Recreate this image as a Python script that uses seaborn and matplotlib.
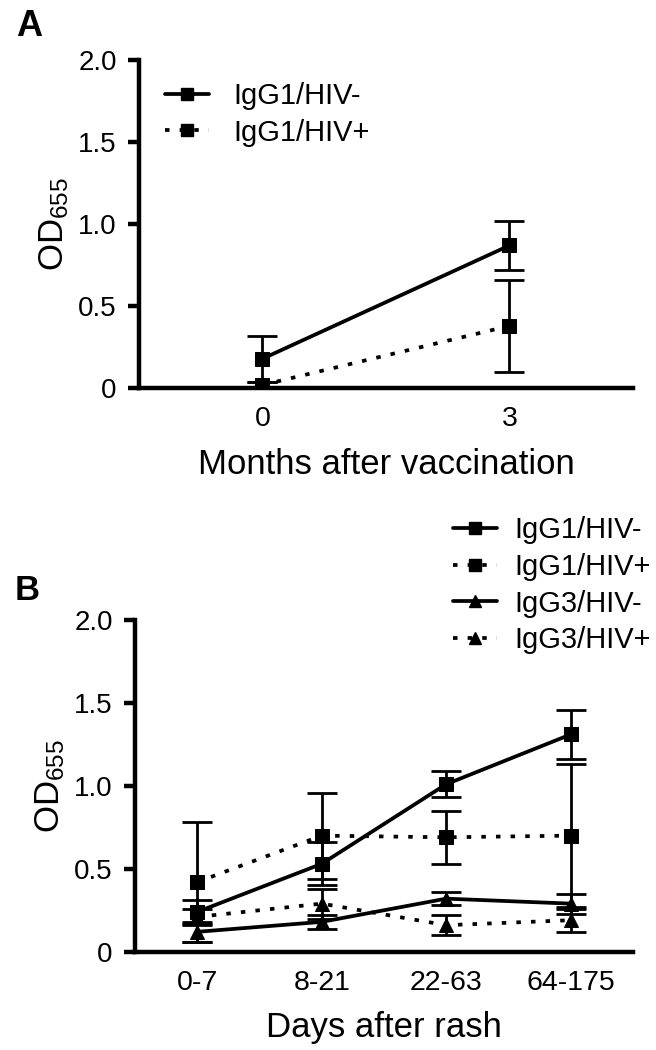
import numpy as np
import pandas as pd
import matplotlib
matplotlib.use("Agg")
import matplotlib.pyplot as plt
from matplotlib.lines import Line2D
import seaborn as sns

# panel A: months after vaccination
months = [0, 3]
a_igg1_neg = [0.18, 0.87]
a_igg1_neg_err = [0.14, 0.15]
a_igg1_pos = [0.02, 0.38]
a_igg1_pos_err = [0.02, 0.28]

# panel B: days after rash
day_bins = ["0-7", "8-21", "22-63", "64-175"]
b_igg1_neg = [0.24, 0.53, 1.01, 1.31]
b_igg1_neg_err = [0.07, 0.13, 0.08, 0.15]
b_igg1_pos = [0.42, 0.70, 0.69, 0.70]
b_igg1_pos_err = [0.36, 0.26, 0.16, 0.43]
b_igg3_neg = [0.12, 0.18, 0.32, 0.29]
b_igg3_neg_err = [0.06, 0.04, 0.04, 0.06]
b_igg3_pos = [0.21, 0.29, 0.16, 0.19]
b_igg3_pos_err = [0.05, 0.09, 0.06, 0.07]

sns.set_theme(style="ticks")
plt.rcParams['font.family'] = ['Liberation Sans', 'DejaVu Sans']
plt.rcParams['mathtext.default'] = 'regular'
for k in ['text.color', 'axes.labelcolor', 'xtick.color', 'ytick.color', 'axes.edgecolor']:
    plt.rcParams[k] = 'black'

SOLID = '-'
DOTTED = (0, (1.2, 2.7))
LW = 2.7
MS = 10.5

fig = plt.figure(figsize=(6.56, 10.5), dpi=100)
ax_a = fig.add_axes([0.2119, 0.6302, 0.753, 0.3127])
ax_b = fig.add_axes([0.2058, 0.0936, 0.759, 0.3159])


def draw_series(ax, x, y, err, marker, ls):
    ax.errorbar(x, y, yerr=err, fmt='none', ecolor='black', elinewidth=2.0,
                capsize=11, capthick=2.0, zorder=2)
    df = pd.DataFrame({'x': x, 'y': y})
    sns.lineplot(data=df, x='x', y='y', ax=ax, color='black', linewidth=LW,
                 linestyle=ls, marker=marker, markersize=MS,
                 markeredgecolor='black', markerfacecolor='black',
                 dash_capstyle='butt', legend=False, zorder=3)


def style_axes(ax):
    sns.despine(ax=ax)
    for s in ['left', 'bottom']:
        ax.spines[s].set_linewidth(3.2)
    ax.set_ylim(0, 2.0)
    ax.set_yticks([0, 0.5, 1.0, 1.5, 2.0])
    ax.set_yticklabels(['0', '0.5', '1.0', '1.5', '2.0'])
    ax.tick_params(axis='y', length=8, width=3.2, pad=8, labelsize=20)
    ax.tick_params(axis='x', length=0, pad=13, labelsize=20.5)
    ax.set_ylabel('OD$_{655}$', fontsize=25, labelpad=5)


def legend_handle(marker, ls):
    return Line2D([], [], color='black', linewidth=LW, linestyle=ls,
                  dash_capstyle='butt', marker=marker, markersize=MS * 0.85)


# panel A
draw_series(ax_a, months, a_igg1_neg, a_igg1_neg_err, 's', SOLID)
draw_series(ax_a, months, a_igg1_pos, a_igg1_pos_err, 's', DOTTED)
style_axes(ax_a)
ax_a.set_xlim(-1.5, 4.5)
ax_a.set_xticks(months)
ax_a.set_xticklabels([str(m) for m in months])
ax_a.set_xlabel('Months after vaccination', fontsize=25, labelpad=11)
fig.legend([legend_handle('s', SOLID), legend_handle('s', DOTTED)],
           ['IgG1/HIV-', 'IgG1/HIV+'], loc='upper left',
           bbox_to_anchor=(0.2515, 0.922), frameon=False, fontsize=21,
           handlelength=1.5, handletextpad=0.85, labelspacing=0.3,
           borderpad=0, borderaxespad=0)

# panel B
xb = list(range(len(day_bins)))
draw_series(ax_b, xb, b_igg1_neg, b_igg1_neg_err, 's', SOLID)
draw_series(ax_b, xb, b_igg1_pos, b_igg1_pos_err, 's', DOTTED)
draw_series(ax_b, xb, b_igg3_neg, b_igg3_neg_err, '^', SOLID)
draw_series(ax_b, xb, b_igg3_pos, b_igg3_pos_err, '^', DOTTED)
style_axes(ax_b)
ax_b.set_xlim(-0.5, 3.5)
ax_b.set_xticks(xb)
ax_b.set_xticklabels(day_bins)
ax_b.set_xlabel('Days after rash', fontsize=25, labelpad=11)
fig.legend([legend_handle('s', SOLID), legend_handle('s', DOTTED),
            legend_handle('^', SOLID), legend_handle('^', DOTTED)],
           ['IgG1/HIV-', 'IgG1/HIV+', 'IgG3/HIV-', 'IgG3/HIV+'],
           loc='upper left', bbox_to_anchor=(0.6905, 0.5085), frameon=False,
           fontsize=21, handlelength=1.5, handletextpad=0.6,
           labelspacing=0.3, borderpad=0, borderaxespad=0)

fig.text(0.024, 0.991, 'A', fontsize=26, fontweight='bold', va='top', ha='left')
fig.text(0.022, 0.4535, 'B', fontsize=25, fontweight='bold', va='top', ha='left')

fig.savefig('out.png', dpi=100, facecolor='white')
